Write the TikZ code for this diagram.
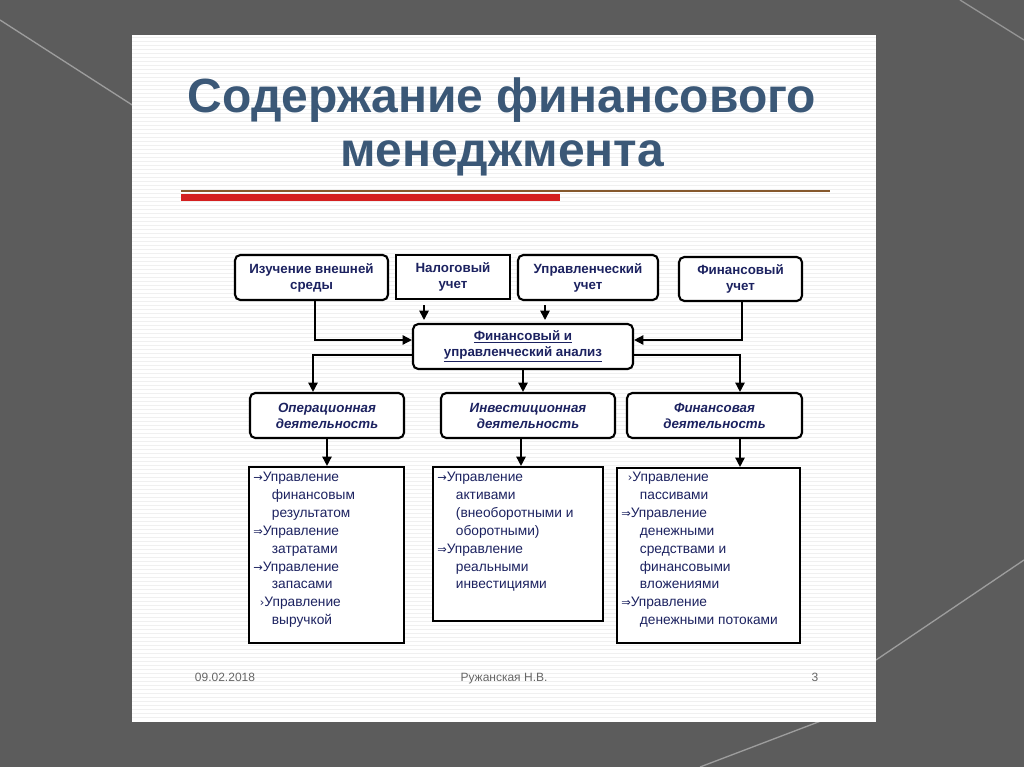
\documentclass[tikz,border=0pt]{standalone}
\usepackage{fontspec}
\setmainfont{Liberation Sans}
\newfontfamily\sym{DejaVu Sans}
\usetikzlibrary{arrows.meta}
\definecolor{bg}{HTML}{5C5C5C}
\definecolor{ttl}{HTML}{3B5877}
\definecolor{txt}{HTML}{1C2260}
\definecolor{red1}{HTML}{D42020}
\newcommand{\ar}[1]{{\sym\fontsize{8.5}{13}\selectfont#1}}
\begin{document}
\begin{tikzpicture}[x=0.75pt,y=-0.75pt,
  rbox/.style={draw=black,line width=1.6pt,rounded corners=4pt,fill=white,font=\bfseries\fontsize{10}{12}\selectfont,text=txt,align=center,inner sep=0pt},
  sbox/.style={draw=black,line width=0.8pt,fill=white,font=\bfseries\fontsize{10}{12}\selectfont,text=txt,align=center,inner sep=0pt},
  ibox/.style={rbox,font=\bfseries\itshape\fontsize{10}{12}\selectfont},
  lbox/.style={draw=black,line width=1.6pt,fill=white,inner sep=0pt},
  ltxt/.style={font=\fontsize{10.3}{13.4}\selectfont,text=txt,align=left,anchor=north west,inner sep=0pt},
  ftxt/.style={font=\fontsize{9}{11}\selectfont,text=black!60,anchor=base},
  arr/.style={line width=1.2pt,-{Triangle[length=7pt,width=7pt]}},
  ln/.style={line width=1.2pt}]
\useasboundingbox (0,0) rectangle (1024,767);
\fill[bg] (0,0) rectangle (1024,767);
\draw[white!40!bg,line width=1pt] (0,20) -- (140,110);
\draw[white!40!bg,line width=1pt] (876,660) -- (1024,560);
\draw[white!40!bg,line width=1pt] (700,767) -- (876,700);
\draw[white!35!bg,line width=1pt] (960,0) -- (1024,40);
\fill[white] (132,35) rectangle (876,722);
\foreach \y in {37,41,...,720} \draw[black!6,line width=0.4pt] (132,\y) -- (876,\y);
% title
\node[font=\bfseries\fontsize{36}{41}\selectfont,text=ttl,align=center] (title) at (502,127) {Содержание финансового\\менеджмента};
\draw[brown!70!black,line width=0.8pt] (181,191) -- (830,191);
\fill[red1] (181,194) rectangle (560,201);
% top boxes
\node[rbox,minimum width=114.75pt,minimum height=33.75pt] (a) at (311.5,277.5) {Изучение внешней\\среды};
\node[sbox,minimum width=85.5pt,minimum height=33pt] (b) at (453,277) {Налоговый\\учет};
\node[rbox,minimum width=105pt,minimum height=33.75pt] (c) at (588,277.5) {Управленческий\\учет};
\node[rbox,minimum width=92.25pt,minimum height=33pt] (d) at (740.5,279) {Финансовый\\учет};
\node[rbox,minimum width=165pt,minimum height=33.75pt] (m) at (523,346.5) {\underline{Финансовый и}\\\underline{управленческий анализ}};
\node[ibox,minimum width=115.5pt,minimum height=33.75pt] (o1) at (327,415.5) {Операционная\\деятельность};
\node[ibox,minimum width=130.5pt,minimum height=33.75pt] (o2) at (528,415.5) {Инвестиционная\\деятельность};
\node[ibox,minimum width=131.25pt,minimum height=33.75pt] (o3) at (714.5,415.5) {Финансовая\\деятельность};
\node[lbox,minimum width=116.25pt,minimum height=132pt] (l1) at (326.5,555) {};
\node[lbox,minimum width=127.5pt,minimum height=115.5pt] (l2) at (518,544) {};
\node[lbox,minimum width=137.25pt,minimum height=131.25pt] (l3) at (708.5,555.5) {};
% connectors
\coordinate (b1) at (424,305); \coordinate (b2) at (424,320);
\coordinate (c1) at (545,305); \coordinate (c2) at (545,320);
\draw[arr] (b1) -- (b2);
\draw[arr] (c1) -- (c2);
\draw[arr] (a.south -| 315,0) |- (m.west |- 0,340);
\draw[arr] (d.south -| 742,0) |- (m.east |- 0,340);
\draw[ln] (m.west |- 0,355) -| (313,380);
\draw[arr] (313,360) -- (o1.north -| 313,0);
\draw[ln] (m.east |- 0,355) -| (740,380);
\draw[arr] (740,360) -- (o3.north -| 740,0);
\draw[arr] (m.south) -- (o2.north -| m.south);
\draw[arr] (o1.south -| 327,0) -- (l1.north -| 327,0);
\draw[arr] (o2.south -| 521,0) -- (l2.north -| 521,0);
\draw[arr] (o3.south -| 740,0) -- (l3.north -| 740,0);
% lists
\node[ltxt] (t1) at (253,472) {\ar{→}Управление\\\hspace*{14pt}финансовым\\\hspace*{14pt}результатом\\\ar{⇒}Управление\\\hspace*{14pt}затратами\\\ar{→}Управление\\\hspace*{14pt}запасами\\\hspace*{5pt}\ar{›}Управление\\\hspace*{14pt}выручкой};
\node[ltxt] (t2) at (437,472) {\ar{→}Управление\\\hspace*{14pt}активами\\\hspace*{14pt}(внеоборотными и\\\hspace*{14pt}оборотными)\\\ar{⇒}Управление\\\hspace*{14pt}реальными\\\hspace*{14pt}инвестициями};
\node[ltxt] (t3) at (621,472) {\hspace*{5pt}\ar{›}Управление\\\hspace*{14pt}пассивами\\\ar{⇒}Управление\\\hspace*{14pt}денежными\\\hspace*{14pt}средствами и\\\hspace*{14pt}финансовыми\\\hspace*{14pt}вложениями\\\ar{⇒}Управление\\\hspace*{14pt}денежными потоками};
% footer
\node[ftxt] (f1) at (225,681) {09.02.2018};
\node[ftxt] (f2) at (504,681) {Ружанская Н.В.};
\node[ftxt] (f3) at (815,681) {3};
\end{tikzpicture}
\end{document}
